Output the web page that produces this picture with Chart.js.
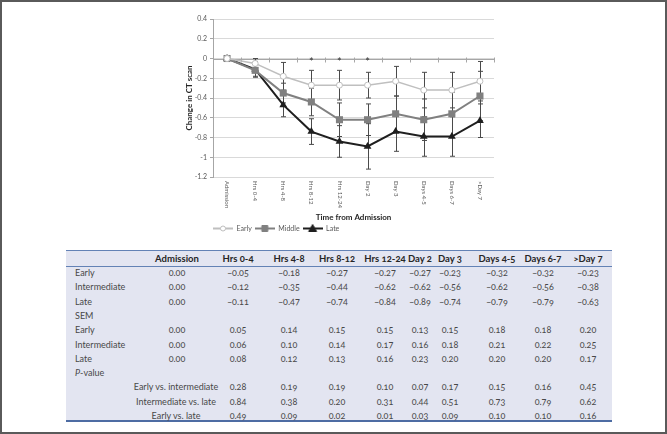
<!DOCTYPE html>
<html>
<head>
<meta charset="utf-8">
<script src="https://cdn.jsdelivr.net/npm/chart.js@4.4.1/dist/chart.umd.min.js"></script>
<style>
  html, body { margin: 0; padding: 0; background: #fff; }
  #frame {
    position: relative; width: 667px; height: 434px; overflow: hidden;
    box-shadow: inset 0 0 0 2px #5a5a5a; font-family: Lato, "Open Sans", sans-serif;
  }
  #chartBox { position: absolute; left: 185px; top: 8px; width: 315px; height: 234px; }
  #tbl {
    position: absolute; left: 66px; top: 250px; width: 546px; height: 169px;
    background: #e3e5f1; border-top: 1px solid #6382b5; border-bottom: 2px solid #4d6ca3;
  }
  #headLine { position: absolute; left: 66px; top: 266px; width: 546px; height: 1px; background: #6382b5; }
  .c {
    position: absolute; height: 14px; line-height: 14px; font-size: 9px; color: #484848;
    white-space: nowrap; font-variant-numeric: oldstyle-nums;
  }
  .h { font-weight: bold; font-size: 9.5px; color: #262626; }
</style>
</head>
<body>
<div id="frame">
  <div id="chartBox"><canvas id="chart"></canvas></div>
  <div id="tbl"></div>
  <div id="headLine"></div>
</div>
<script>
const categories = ["Admission", "Hrs 0-4", "Hrs 4-8", "Hrs 8-12", "Hrs 12-24", "Day 2", "Day 3", "Days 4-5", "Days 6-7", ">Day 7"];
const early = [0, -0.05, -0.18, -0.27, -0.27, -0.27, -0.23, -0.32, -0.32, -0.23];
const middle = [0, -0.12, -0.35, -0.44, -0.62, -0.62, -0.56, -0.62, -0.56, -0.38];
const late = [0, -0.11, -0.47, -0.74, -0.84, -0.89, -0.74, -0.79, -0.79, -0.63];
const semEarly = [0, 0.05, 0.14, 0.15, 0.15, 0.13, 0.15, 0.18, 0.18, 0.20];
const semMiddle = [0, 0.06, 0.10, 0.14, 0.17, 0.16, 0.18, 0.21, 0.22, 0.25];
const semLate = [0, 0.08, 0.12, 0.13, 0.16, 0.23, 0.20, 0.20, 0.20, 0.17];
const pEarlyMid = [0.28, 0.19, 0.19, 0.10, 0.07, 0.17, 0.15, 0.16, 0.45];
const pMidLate = [0.84, 0.38, 0.20, 0.31, 0.44, 0.51, 0.73, 0.79, 0.62];
const pEarlyLate = [0.49, 0.09, 0.02, 0.01, 0.03, 0.09, 0.10, 0.10, 0.16];
const starred = ["Hrs 8-12", "Hrs 12-24", "Day 2"];
const yMin = -1.2, yMax = 0.4, yStep = 0.2;

const colors = { early: "#bfbfbf", middle: "#808080", late: "#1f1f1f" };

// little "line + marker" icons for the legend
function legendIcon(color, shape, fill) {
  const c = document.createElement("canvas");
  c.width = 20; c.height = 9;
  const g = c.getContext("2d");
  g.strokeStyle = color; g.lineWidth = 2;
  g.beginPath(); g.moveTo(0, 4.5); g.lineTo(20, 4.5); g.stroke();
  g.fillStyle = fill; g.lineWidth = 1;
  g.beginPath();
  if (shape === "circle") g.arc(10, 4.5, 2.5, 0, Math.PI * 2);
  else if (shape === "rect") g.rect(7, 1.5, 6, 6);
  else { g.moveTo(10, 0.5); g.lineTo(14, 7.5); g.lineTo(6, 7.5); g.closePath(); }
  g.fill(); g.stroke();
  return c;
}
const icons = [
  legendIcon(colors.early, "circle", "#fff"),
  legendIcon(colors.middle, "rect", colors.middle),
  legendIcon(colors.late, "triangle", colors.late),
];

const errorBars = {
  id: "errorBars",
  beforeDatasetsDraw(chart) {
    const { ctx, scales: { x, y } } = chart;
    ctx.save();
    ctx.strokeStyle = "#4a4a4a";
    ctx.lineWidth = 1;
    chart.data.datasets.forEach(ds => {
      ds.data.forEach((v, j) => {
        const s = ds.sem[j];
        if (!s) return;
        const px = Math.round(x.getPixelForValue(j)) + 0.5;
        const y1 = y.getPixelForValue(v + s), y2 = y.getPixelForValue(v - s);
        ctx.beginPath();
        ctx.moveTo(px, y1); ctx.lineTo(px, y2);
        ctx.moveTo(px - 2.5, y1); ctx.lineTo(px + 2.5, y1);
        ctx.moveTo(px - 2.5, y2); ctx.lineTo(px + 2.5, y2);
        ctx.stroke();
      });
    });
    ctx.restore();
  },
};

const zeroAxis = {
  id: "zeroAxis",
  beforeDatasetsDraw(chart) {
    const { ctx, chartArea: a, scales: { x, y } } = chart;
    const y0 = Math.round(y.getPixelForValue(0)) + 0.5;
    ctx.save();
    ctx.strokeStyle = "#a6a6a6";
    ctx.lineWidth = 1;
    ctx.beginPath();
    ctx.moveTo(a.left, y0); ctx.lineTo(a.right, y0);
    for (let j = 0; j <= categories.length; j++) {
      const px = Math.round(x.getPixelForValue(j - 0.5)) + 0.5;
      ctx.moveTo(px, y0 - 2); ctx.lineTo(px, y0 + 3);
    }
    ctx.stroke();
    ctx.restore();
  },
  afterDatasetsDraw(chart) {
    const { ctx, scales: { x, y } } = chart;
    const y0 = y.getPixelForValue(0);
    ctx.save();
    ctx.fillStyle = "#333";
    ctx.font = "11px Lato";
    ctx.textAlign = "center";
    ctx.textBaseline = "middle";
    starred.forEach(c => ctx.fillText("*", x.getPixelForValue(categories.indexOf(c)), y0 + 4));
    ctx.restore();
  },
};

// x tick labels turned clockwise, reading downward like the original
const xLabels = {
  id: "xLabels",
  afterDraw(chart) {
    const { ctx, chartArea: a, scales: { x } } = chart;
    ctx.save();
    ctx.fillStyle = "#595959";
    ctx.font = "6px Lato";
    ctx.textAlign = "left";
    ctx.textBaseline = "middle";
    x.getLabels().forEach((lab, j) => {
      ctx.save();
      ctx.translate(x.getPixelForValue(j), a.bottom + 4);
      ctx.rotate(Math.PI / 2);
      ctx.fillText(lab, 0, 0);
      ctx.restore();
    });
    ctx.restore();
  },
};

const legendShift = {
  id: "legendShift",
  afterLayout(chart) {
    const lg = chart.legend;
    lg.left = chart.chartArea.left - lg.options.labels.padding;
  },
};

Chart.defaults.font.family = "Lato";

new Chart(document.getElementById("chart"), {
  type: "line",
  data: {
    labels: categories,
    datasets: [
      {
        label: "Early", data: early, sem: semEarly,
        borderColor: colors.early, borderWidth: 1.5,
        pointStyle: "circle", pointRadius: 3, pointBackgroundColor: "#fff",
        pointBorderColor: colors.early, pointBorderWidth: 1,
      },
      {
        label: "Middle", data: middle, sem: semMiddle,
        borderColor: colors.middle, borderWidth: 2,
        pointStyle: "rect", pointRadius: 5, pointBackgroundColor: colors.middle,
        pointBorderColor: colors.middle, pointBorderWidth: 0,
      },
      {
        label: "Late", data: late, sem: semLate,
        borderColor: colors.late, borderWidth: 2,
        pointStyle: "triangle", pointRadius: 4.5, pointBackgroundColor: colors.late,
        pointBorderColor: colors.late, pointBorderWidth: 0,
      },
    ],
  },
  options: {
    responsive: true,
    maintainAspectRatio: false,
    animation: false,
    layout: { padding: { top: 11, right: 6, left: 0, bottom: 0 } },
    plugins: {
      tooltip: { enabled: false },
      legend: {
        position: "bottom",
        align: "start",
        labels: {
          usePointStyle: true,
          pointStyleWidth: 20,
          padding: 3,
          color: "#595959",
          font: { size: 7 },
          generateLabels: chart => chart.data.datasets.map((ds, i) => ({
            text: ds.label, pointStyle: icons[i], fontColor: "#595959",
            fillStyle: "transparent", strokeStyle: "transparent", lineWidth: 0,
            datasetIndex: i, hidden: false,
          })),
        },
      },
    },
    scales: {
      x: {
        offset: true,
        grid: { display: false, drawTicks: false },
        border: { display: false },
        ticks: { display: false },
        title: {
          display: true, text: "Time from Admission", color: "#262626",
          font: { size: 8, weight: "bold" }, padding: 0,
        },
        afterFit: s => { s.height = 45; },
      },
      y: {
        min: yMin, max: yMax,
        grid: { color: "#d9d9d9", tickLength: 3, tickColor: "#a6a6a6" },
        border: { color: "#a6a6a6" },
        ticks: {
          stepSize: yStep, padding: 3, color: "#595959", font: { size: 7 },
          callback: v => String(Math.round(v * 10) / 10),
        },
        title: {
          display: true, text: "Change in CT scan", color: "#262626",
          font: { size: 8, weight: "bold" }, padding: { top: 0, bottom: 0 },
        },
        afterFit: s => { s.width = 28; },
      },
    },
  },
  plugins: [zeroAxis, errorBars, xLabels, legendShift],
});

// table under the chart
const frame = document.getElementById("frame");
const colCenters = [177, 238, 289, 337, 385, 420, 450, 497, 543, 588];
const fmt = v => (v < 0 ? "\u2212" : "") + Math.abs(v).toFixed(2);
function put(html, x, y, align, cls) {
  const d = document.createElement("div");
  d.className = "c" + (cls ? " " + cls : "");
  d.innerHTML = html;
  d.style.top = (y - 7) + "px";
  if (align === "left") { d.style.left = x + "px"; }
  else { d.style.left = (x - 60) + "px"; d.style.width = "120px"; d.style.textAlign = "center"; }
  frame.appendChild(d);
}
categories.forEach((c, j) => put(c, colCenters[j], 258.5, "center", "h"));
const rows = [
  ["Early", early], ["Intermediate", middle], ["Late", late],
  ["SEM", null],
  ["Early", semEarly], ["Intermediate", semMiddle], ["Late", semLate],
  ["<i>P</i>-value", null],
];
rows.forEach(([lab, vals], i) => {
  const y = 273 + i * 14.3;
  put(lab, 75, y, "left");
  if (vals) vals.forEach((v, j) => put(fmt(v), colCenters[j], y, "center"));
});
const pRows = [
  ["Early vs. intermediate", pEarlyMid],
  ["Intermediate vs. late", pMidLate],
  ["Early vs. late", pEarlyLate],
];
pRows.forEach(([lab, vals], i) => {
  const y = 273 + (8 + i) * 14.3;
  put(lab, 176, y, "center");
  vals.forEach((v, j) => put(fmt(v), colCenters[j + 1], y, "center"));
});
</script>
</body>
</html>
